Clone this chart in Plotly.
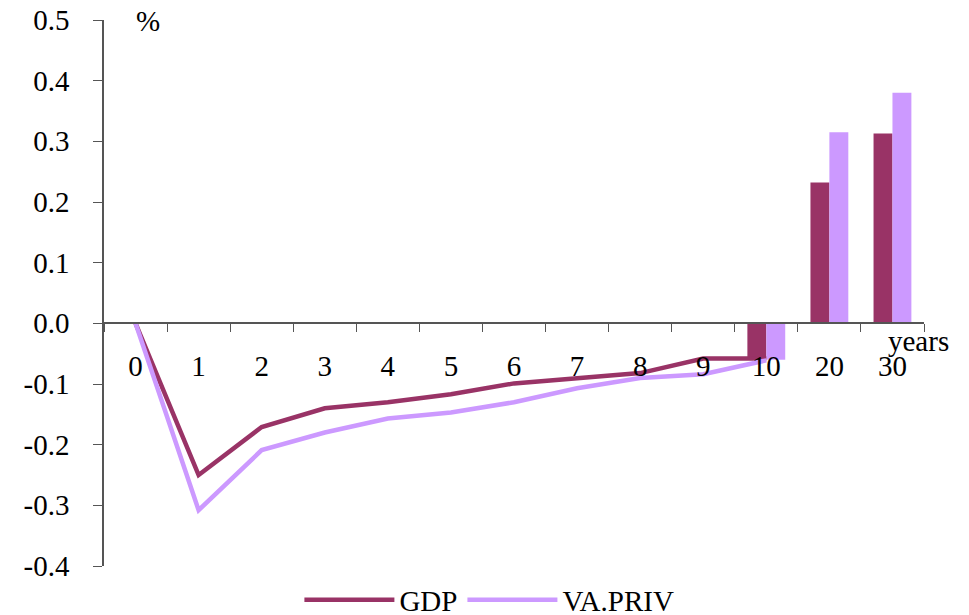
import plotly.graph_objects as go

categories = ["0", "1", "2", "3", "4", "5", "6", "7", "8", "9", "10", "20", "30"]
line_x = ["0", "1", "2", "3", "4", "5", "6", "7", "8", "9", "10"]
gdp_line = [0.0, -0.250, -0.171, -0.140, -0.130, -0.117, -0.099, -0.090, -0.082, -0.058, -0.058]
vapriv_line = [0.0, -0.308, -0.209, -0.180, -0.157, -0.147, -0.130, -0.107, -0.090, -0.084, -0.061]
bar_x = ["10", "20", "30"]
gdp_bars = [-0.058, 0.232, 0.313]
vapriv_bars = [-0.060, 0.315, 0.380]
y_ticks = [-0.4, -0.3, -0.2, -0.1, 0.0, 0.1, 0.2, 0.3, 0.4, 0.5]
y_tick_text = ["-0.4", "-0.3", "-0.2", "-0.1", "0.0", "0.1", "0.2", "0.3", "0.4", "0.5"]

GDP_COLOR = "#993366"
VA_COLOR = "#CC99FF"
FONT = "Liberation Serif, Times New Roman, serif"
FS = 29

# page body has an 8px default margin, so the figure is offset by 8px
OFF = 8
L, T, PW, PH = 104 - OFF, 20 - OFF, 820, 546

fig = go.Figure()
fig.add_trace(go.Bar(x=bar_x, y=gdp_bars, marker=dict(color=GDP_COLOR, line=dict(width=0)),
                     showlegend=False, hoverinfo="skip"))
fig.add_trace(go.Bar(x=bar_x, y=vapriv_bars, marker=dict(color=VA_COLOR, line=dict(width=0)),
                     showlegend=False, hoverinfo="skip"))
fig.add_trace(go.Scatter(x=line_x, y=gdp_line, mode="lines", name="GDP",
                         line=dict(color=GDP_COLOR, width=4.5)))
fig.add_trace(go.Scatter(x=line_x, y=vapriv_line, mode="lines", name="VA.PRIV",
                         line=dict(color=VA_COLOR, width=4.5)))

zero_frac = 0.4 / 0.9

fig.update_layout(
    width=969, height=615,
    margin=dict(l=L, r=969 - L - PW, t=T, b=615 - T - PH, autoexpand=False),
    plot_bgcolor="white", paper_bgcolor="white",
    font=dict(family=FONT, size=FS, color="black"),
    barmode="group", bargap=0.4, bargroupgap=0,
    showlegend=True,
    legend=dict(orientation="h", x=0.47, xanchor="center", y=-0.062, yanchor="middle",
                itemwidth=90, font=dict(family=FONT, size=FS), bgcolor="rgba(0,0,0,0)",
                traceorder="normal"),
    xaxis=dict(type="category", categoryorder="array", categoryarray=categories,
               range=[-0.5, 12.5], anchor="free", position=zero_frac, automargin=False,
               showline=True, linecolor="#555555", linewidth=1.5,
               ticks="outside", ticklen=8, tickcolor="#555555", tickson="boundaries",
               showgrid=False, zeroline=False, ticklabelstandoff=17, ticklabeloverflow="allow",
               tickfont=dict(family=FONT, size=FS)),
    yaxis=dict(range=[-0.4, 0.5], tickvals=y_ticks, ticktext=y_tick_text, automargin=False,
               showline=True, linecolor="#555555", linewidth=1.5,
               ticks="outside", ticklen=9, tickcolor="#555555", ticklabeloverflow="allow",
               showgrid=False, zeroline=False, ticklabelstandoff=18,
               tickfont=dict(family=FONT, size=FS)),
    annotations=[
        dict(text="years", xref="paper", yref="paper", x=(918 - 104) / PW, y=(566 - 341) / PH,
             xanchor="center", yanchor="middle", showarrow=False, font=dict(family=FONT, size=FS)),
        dict(text="%", xref="paper", yref="paper", x=(148 - 104) / PW, y=(566 - 21) / PH,
             xanchor="center", yanchor="middle", showarrow=False, font=dict(family=FONT, size=FS)),
    ],
)

fig.write_html("out.html")
